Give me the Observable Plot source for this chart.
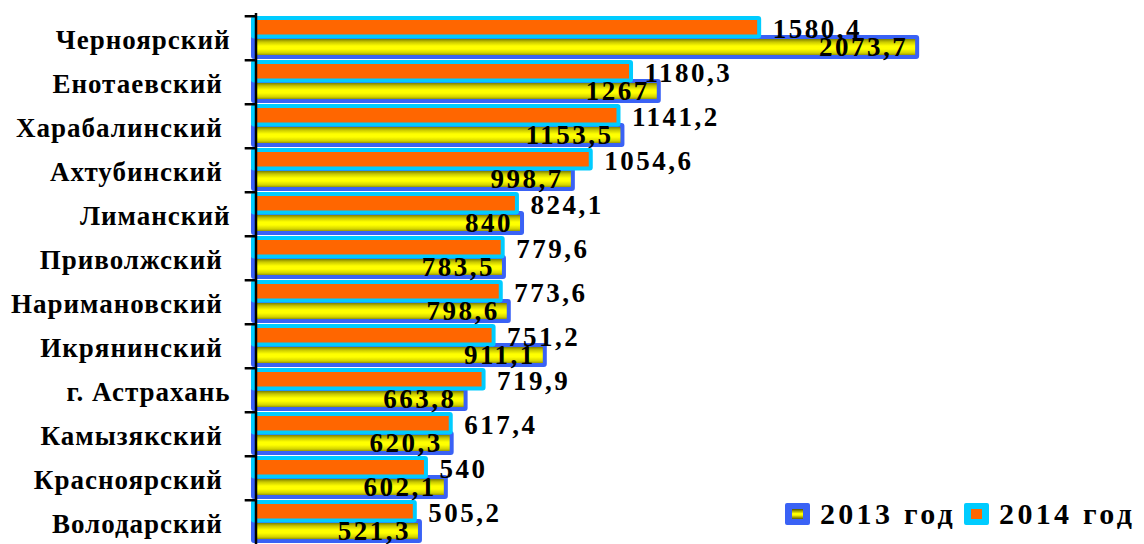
<!DOCTYPE html>
<html>
<head>
<meta charset="utf-8">
<script src="https://cdn.jsdelivr.net/npm/d3@7"></script>
<script src="https://cdn.jsdelivr.net/npm/@observablehq/plot@0.6"></script>
<style>
  html, body { margin: 0; padding: 0; background: #fff; }
  #wrap { position: relative; width: 1144px; height: 544px; overflow: hidden; }
  #wrap svg { letter-spacing: 2.5px; }
  #wrap svg g[aria-label="y-axis tick label"] { letter-spacing: 1px; }
  #wrap svg g[aria-label="y-axis tick label"] text { white-space: pre; }
  #legend { position: absolute; left: 785px; top: 499px; width: max-content; white-space: nowrap; display: flex; align-items: center;
    font-family: "Liberation Serif", serif; font-weight: bold; font-size: 30px; letter-spacing: 3.3px; color: #000; line-height: 1; }
  .sw { box-sizing: border-box; flex: none; width: 25px; height: 22px; border-style: solid; border-width: 6px 7px; border-radius: 2px; margin-right: 10px; }
  .item { display: flex; align-items: center; margin-right: 8px; white-space: nowrap; }
</style>
</head>
<body>
<div id="wrap"></div>
<script>
const districts = ["Черноярский", "Енотаевский ", "Харабалинский ", "Ахтубинский ", "Лиманский", "Приволжский ",
  "Наримановский ", "Икрянинский ", "г. Астрахань", "Камызякский ", "Красноярский ", "Володарский "];
const values2014 = [1580.4, 1180.3, 1141.2, 1054.6, 824.1, 779.6, 773.6, 751.2, 719.9, 617.4, 540, 505.2];
const values2013 = [2073.7, 1267, 1153.5, 998.7, 840, 783.5, 798.6, 911.1, 663.8, 620.3, 602.1, 521.3];
const seriesLabels = ["2013 год", "2014 год"];

const fmt = v => String(v).replace(".", ",");
const rows2014 = districts.map((d, i) => ({district: d, value: values2014[i]}));
const rows2013 = districts.map((d, i) => ({district: d, value: values2013[i]}));

const yTop = 13, yBottom = 547;
const bw = (yBottom - yTop) / districts.length;
const font = "Liberation Serif";

const chart = Plot.plot({
  width: 1144,
  height: 544,
  marginLeft: 253,
  marginRight: 0,
  marginTop: yTop,
  marginBottom: 0,
  x: {domain: [0, 2782], axis: null},
  y: {type: "band", domain: districts, range: [yTop, yBottom], padding: 0, axis: null},
  marks: [
    Plot.barX(rows2013, {x: "value", y: "district", fill: "url(#yellowGrad)", stroke: "#3a62f5", strokeWidth: 4,
      insetTop: 21, insetBottom: 3, rx: 1}),
    Plot.barX(rows2014, {x: "value", y: "district", fill: "#ff6600", stroke: "#00ccff", strokeWidth: 4,
      insetTop: 2, insetBottom: bw - 21, rx: 1}),
    Plot.ruleX([0], {dx: 2.5, stroke: "#000", strokeWidth: 2.5}),
    Plot.ruleY(districts, {y: d => d, x1: -26, x2: 8, dy: -bw / 2, stroke: "#000", strokeWidth: 2.5}),
    Plot.axisY({tickSize: 0, tickPadding: 23, dy: 2, fontSize: 27, fontWeight: "bold", fontFamily: font, label: null, fill: "#000"}),
    Plot.text(rows2014, {x: "value", y: "district", text: d => fmt(d.value), dx: 13, dy: -9.5, textAnchor: "start",
      fontSize: 27, fontWeight: "bold", fontFamily: font, fill: "#000"}),
    Plot.text(rows2013, {x: "value", y: "district", text: d => fmt(d.value), dx: -9.5, dy: 9, textAnchor: "end",
      fontSize: 27, fontWeight: "bold", fontFamily: font, fill: "#000"})
  ]
});

const defs = d3.select(chart).insert("defs", ":first-child");
const g = defs.append("linearGradient").attr("id", "yellowGrad").attr("x1", 0).attr("y1", 0).attr("x2", 0).attr("y2", 1);
[["0%", "#4d5200"], ["25%", "#c8c800"], ["45%", "#ffff00"], ["60%", "#ffff00"], ["80%", "#d2d200"], ["100%", "#5c5c00"]]
  .forEach(([o, c]) => g.append("stop").attr("offset", o).attr("stop-color", c));

const wrap = document.getElementById("wrap");
wrap.appendChild(chart);

const legend = document.createElement("div");
legend.id = "legend";
const swatches = [
  {border: "#3a62f5", fill: "linear-gradient(#4d5200, #ffff00 45%, #ffff00 60%, #5c5c00)"},
  {border: "#00ccff", fill: "#ff6600"}
];
seriesLabels.forEach((label, i) => {
  const item = document.createElement("div");
  item.className = "item";
  const sw = document.createElement("div");
  sw.className = "sw";
  sw.style.borderColor = swatches[i].border;
  sw.style.background = swatches[i].fill;
  item.appendChild(sw);
  const t = document.createElement("span");
  t.textContent = label;
  item.appendChild(t);
  legend.appendChild(item);
});
wrap.appendChild(legend);
</script>
</body>
</html>
